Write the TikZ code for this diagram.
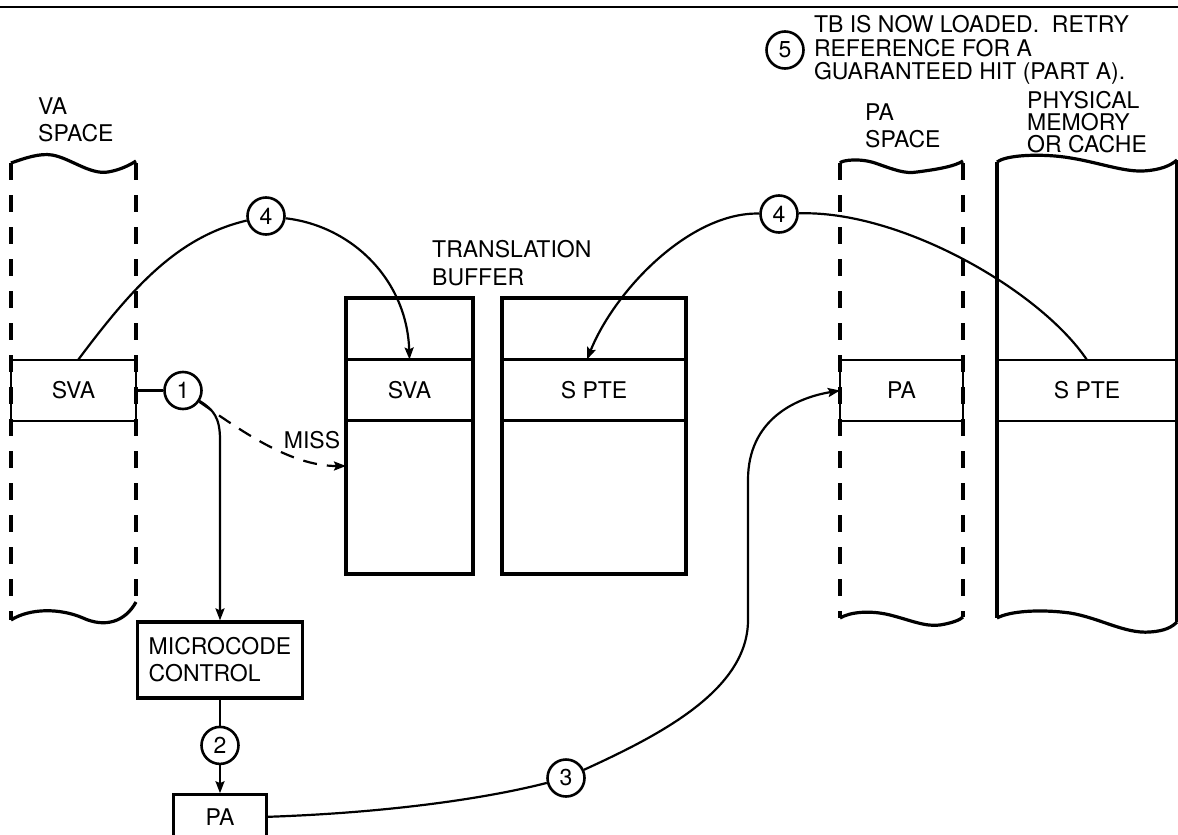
\documentclass[tikz,border=0pt]{standalone}
\usepackage{fontspec}
\setmainfont{TeX Gyre Heros}
\usetikzlibrary{arrows.meta,positioning}
\tikzset{
  bandbox/.style={draw,line width=2.4pt,inner sep=0pt,outer sep=0pt,minimum height=61pt},
  tbbox/.style={draw,line width=3.2pt,inner sep=0pt,outer sep=0pt,minimum height=276pt},
  ctrlbox/.style={draw,line width=3.2pt,align=left,inner sep=0pt},
  stepcirc/.style={circle,draw,line width=2.6pt,minimum size=37pt,inner sep=0pt},
  lbl/.style={align=left,inner sep=0pt},
  flowline/.style={line width=2.2pt},
  flowarrow/.style={-{Stealth[length=12pt,width=9pt,inset=2pt]},line width=2.2pt},
  missarrow/.style={flowarrow,dash pattern=on 14pt off 10pt},
  colside/.style={line width=3.4pt,dash pattern=on 17pt off 15pt},
  colsolid/.style={line width=3.2pt}
}

\begin{document}
\begin{tikzpicture}[x=1pt,y=-1pt,font=\fontsize{23}{27}\selectfont]
\useasboundingbox (0,0) rectangle (1178,835);
\draw[line width=2.4pt] (0,7) -- (1178,7);

% VA space column
\draw[colside] (11,163) -- (11,620);
\draw[colside] (136,163) -- (136,602);
\draw[colsolid] (11,163) .. controls (25,158) and (40,153) .. (52,155) .. controls (70,158) and (90,175) .. (108,172) .. controls (120,170) and (130,165) .. (136,161);
\draw[colsolid] (11,620) .. controls (30,608) and (60,608) .. (83,618) .. controls (105,628) and (125,622) .. (136,602);
\node[bandbox,minimum width=125pt] (vasva) at (73.5,390.5) {SVA};
\node[lbl,anchor=west] (valbl) at (38,120) {VA\\SPACE};

% translation buffer
\node[tbbox,minimum width=127pt] (tbl) at (409.5,436) {};
\node[tbbox,minimum width=184pt] (tbr) at (594,436) {};
\node[bandbox,minimum width=127pt] (tbsva) at (409.5,390) {SVA};
\node[bandbox,minimum width=184pt] (tbspte) at (594,390) {S PTE};
\node[lbl,anchor=west,font=\fontsize{23}{28}\selectfont] (tblbl) at (432,263) {TRANSLATION\\BUFFER};

% PA space column
\draw[colside] (840,163) -- (840,618);
\draw[colside] (963,163) -- (963,617);
\draw[colsolid] (840,163) .. controls (842,160) and (860,158) .. (875,163) .. controls (895,170) and (905,174) .. (917,172) .. controls (940,169) and (955,166) .. (963,161);
\draw[colsolid] (840,618) .. controls (850,612) and (870,610) .. (890,615) .. controls (910,620) and (925,627) .. (940,625) .. controls (952,623) and (960,620) .. (963,617);
\node[bandbox,minimum width=123pt] (pasp) at (901.5,390.5) {PA};
\node[lbl,anchor=west] (palbl) at (865,126) {PA\\SPACE};

% physical memory column
\draw[colsolid] (997,162) -- (997,618);
\draw[colsolid] (1176.5,160) -- (1176.5,622);
\draw[colsolid] (997,162) .. controls (1005,156) and (1030,154) .. (1055,156) .. controls (1090,159) and (1120,172) .. (1143,171) .. controls (1160,170) and (1170,166) .. (1177,160);
\draw[colsolid] (997,618) .. controls (1010,611) and (1040,609) .. (1070,613) .. controls (1100,618) and (1125,634) .. (1150,632) .. controls (1165,631) and (1172,627) .. (1177,622);
\node[bandbox,minimum width=181pt] (pmspte) at (1087,390.5) {S PTE};
\node[lbl,anchor=west,font=\fontsize{23}{22}\selectfont] (pmlbl) at (1027,122) {PHYSICAL\\MEMORY\\OR CACHE};

% microcode path
\node[stepcirc] (c1) at (183,390.5) {1};
\node[ctrlbox,minimum width=165pt,minimum height=76pt] (mc) at (220,660) {MICROCODE\\CONTROL};
\node[stepcirc,below=26pt of mc] (c2) {2};
\node[draw,line width=3.2pt,minimum width=93pt,minimum height=44pt,inner sep=0pt,below=28pt of c2] (pabox) {PA};
\node[stepcirc] (c3) at (566,778) {3};
\node[stepcirc] (c4a) at (266,216) {4};
\node[stepcirc] (c4b) at (779,214) {4};
\node[lbl] (miss) at (312,440) {MISS};

% note 5
\node[stepcirc] (c5) at (785,50) {5};
\node[lbl,right=9pt of c5,font=\fontsize{23}{23.5}\selectfont] (note) {TB IS NOW LOADED.\ \ RETRY\\REFERENCE FOR A\\GUARANTEED HIT (PART A).};

% connectors
\draw[flowline] (vasva.east) -- (c1);
\draw[flowarrow] (c1) .. controls (214,410) and (220,418) .. (220,440) -- (mc.north);
\draw[missarrow] (c1) .. controls (240,430) and (290,466) .. ([yshift=-30pt]tbl.west);
\draw[flowline] (mc) -- (c2);
\draw[flowarrow] (c2) -- (pabox);
\draw[flowline] (pabox.east) .. controls (380,813) and (480,800) .. (c3);
\draw[flowarrow] (c3) .. controls (660,735) and (748,690) .. (748,620) -- (748,480) .. controls (748,420) and (795,398) .. (pasp.west);
\draw[flowline] ([xshift=4.5pt]vasva.north) .. controls (132,288) and (177,237) .. (c4a);
\draw[flowarrow] (c4a) .. controls (352,226) and (407,280) .. (tbsva.north);
\draw[flowline] (pmspte.north) .. controls (1040,290) and (900,210) .. (c4b);
\draw[flowarrow] (c4b) .. controls (690,212) and (615,290) .. ([xshift=-7pt]tbspte.north);
\end{tikzpicture}
\end{document}
